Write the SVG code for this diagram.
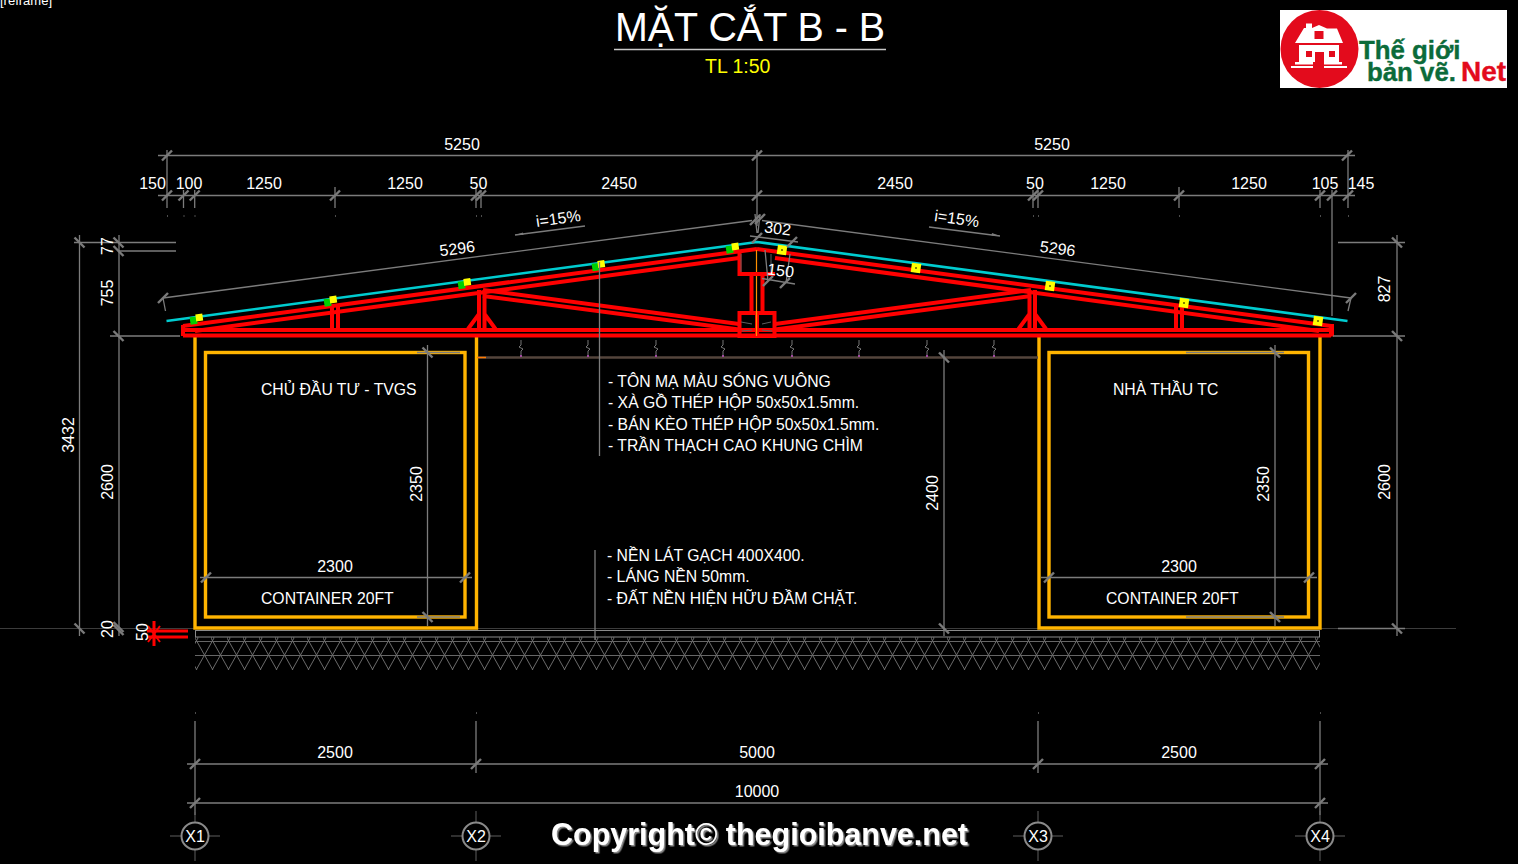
<svg xmlns="http://www.w3.org/2000/svg" width="1518" height="864" viewBox="0 0 1518 864">
<style>
text{font-family:"Liberation Sans",Arial,sans-serif;fill:#fff;font-size:16px}
.m{text-anchor:middle}
.n{font-size:15.750px}
.d{stroke:#7c7c7c;stroke-width:1.3;fill:none}
.f{stroke:#5f5f5f;stroke-width:1;fill:none}
.k{stroke:#7a7a7a;stroke-width:2.400;fill:none}
.r{stroke:#f00;stroke-width:4;fill:none}
.o{stroke:#ffb400;stroke-width:3.400;fill:none}
.c{stroke:#00ccd0;stroke-width:2.600;fill:none}
.g{fill:#fff}
</style>
<defs>
<g id="a"><path class="k" d="M-5 5L5-5"/></g>
<g id="b"><path class="k" d="M-5-5L5 5"/></g>
<g id="h"><path stroke="#777" stroke-width="1" fill="none" d="M0 0V5L-2 7L2 9L0 11V16"/><path stroke="#a04aa0" stroke-width="2" d="M-1 16H1"/></g>
<pattern id="hatch" patternUnits="userSpaceOnUse" x="195" y="638" width="16" height="34">
<path d="M-16 0L3 34M0 0L19 34M3 0L-16 34M19 0L0 34" stroke="#6a6a6a" stroke-width="1" fill="none"/>
</pattern>
<g id="truss">
<path class="r" d="M183 326L757 249M195 331L739 258"/>
<path class="r" d="M483 290L739 324M483 296L739 329.500"/>
<path class="r" d="M332 306V330M338 305V330M479 290V330M484.500 290V330M468 329L479 314M495.500 329L484.500 314"/>
<path class="r" d="M183 325V336"/>
<path class="r" d="M183 330H757M183 335.500H757"/>
<path class="r" d="M739.500 313H757V336H739.500Z"/>
<path class="r" d="M751.500 274V313"/>
</g>
<g id="p1"><rect x="-6" y="-3" width="7" height="7.500" fill="#00d000" transform="rotate(-8)"/><rect x="0" y="-5" width="7" height="7" fill="#ff0" transform="rotate(-8)"/></g>
<g id="p2"><rect x="-4.700" y="-4.700" width="9.400" height="9.400" fill="#ff0" transform="rotate(8)"/><rect x="-.7" y="-.7" width="1.400" height="1.400" fill="#000"/></g>
<filter id="sh" x="-5%" y="-20%" width="110%" height="140%"><feDropShadow dx="1.500" dy="1.500" stdDeviation="0" flood-color="#8c8c8c"/></filter>
</defs>
<rect width="1518" height="864" fill="#000"/>

<g id="frame-label"><text x="0" y="4.500" style="font-size:13px">[reframe]</text></g>

<g id="title">
<text x="615" y="41" textLength="270" lengthAdjust="spacingAndGlyphs" style="font-size:40px">MẶT CẮT B - B</text>
<path d="M614 49.500H886" stroke="#c8c8c8" stroke-width="1.300"/>
<text x="705" y="73" style="font-size:19.500px;fill:#ff0">TL 1:50</text>
</g>

<g id="logo">
<rect x="1280" y="10" width="227" height="78" fill="#fff"/>
<circle cx="1319.500" cy="49" r="39" fill="#e30b1c"/>
<path class="g" d="M1295 43L1304 28H1306V23.500H1312V28L1319 25L1327 28.500H1337L1343 43Z"/>
<path class="g" d="M1299 45H1339V62H1299Z"/>
<path class="g" d="M1291 66H1313V68H1291ZM1324 66H1347V68H1324ZM1295 62H1313V64.500H1295ZM1324 62H1342V64.500H1324Z"/>
<path fill="#e30b1c" d="M1306 51H1312V57H1306ZM1329 51H1335V57H1329ZM1315 52H1324V65H1315ZM1314.500 31H1323.500V39H1314.500Z"/>
<text style="font-size:25.800px;font-weight:700;fill:#0b6b3a;stroke:#0b6b3a;stroke-width:.4"><tspan x="1359" y="59">Thế giới</tspan><tspan x="1367" y="81">bản vẽ.</tspan><tspan x="1461" y="81" style="font-size:28px;fill:#e30b1c;stroke:#e30b1c">Net</tspan></text>
</g>

<g id="ground">
<path d="M0 628.500H1456" stroke="#3c3c3c" stroke-width="1"/>
<rect x="195.500" y="630.500" width="1124" height="6.500" fill="none" stroke="#8a8a8a" stroke-width="1"/>
<rect x="195" y="637" width="1125" height="33" fill="url(#hatch)"/>
<path d="M195 641.500H1320M195 655.500H1320" stroke="#666" stroke-width="1"/>
</g>

<g id="containers">
<path class="o" d="M195 337V628H476.500V337"/>
<rect class="o" x="205.500" y="352.500" width="259.500" height="264.500"/>
<path class="o" d="M1039 337V628H1320V337"/>
<rect class="o" x="1049" y="352.500" width="259.500" height="264.500"/>
</g>

<g id="ceiling">
<path d="M478 357.500H1038" stroke="#54453c" stroke-width="2.500"/>
<path d="M477 357.500H486" stroke="#ff7a00" stroke-width="1.500"/>
<use href="#h" x="521" y="340"/><use href="#h" x="588" y="340"/><use href="#h" x="656" y="340"/><use href="#h" x="723" y="340"/><use href="#h" x="792" y="340"/><use href="#h" x="859" y="340"/><use href="#h" x="927" y="340"/><use href="#h" x="994" y="340"/>
</g>

<g id="roof">
<use href="#truss"/>
<use href="#truss" transform="translate(1514,0) scale(-1,1)"/>
<path class="r" d="M1332 324V336.500"/>
<path d="M756.500 250V336" stroke="#ff9000" stroke-width="1.200"/>
<path class="r" d="M739.500 251V274H775"/>
<path class="f" d="M741 254V272M771 254V272M741 322L752 324M752 330L742 331M771 322L762 324M762 330L772 331"/>
<path class="c" d="M166.500 321L757 242L1347.500 321"/>
<use href="#p1" x="196" y="319.500"/><use href="#p1" x="330" y="301.500"/><use href="#p1" x="464" y="284"/><use href="#p1" x="598" y="266"/><use href="#p1" x="732" y="248.500"/>
<use href="#p2" x="782" y="250"/><use href="#p2" x="916" y="268"/><use href="#p2" x="1050" y="286"/><use href="#p2" x="1184" y="303"/><use href="#p2" x="1318" y="321"/>
</g>

<g id="dimensions">
<path class="d" d="M158 155.500H1355M158 195.500H1355"/>
<path class="d" d="M167 150V208M183.500 190V208M194.700 190V208M335 187V208M476 187V208M481 190V208M757 150V226M1033 190V208M1038 187V208M1179 187V208M1320 190V208M1332 190V316M1348 150V208"/>
<path d="M167 216h1M183.500 216h1M194.500 216h1M335 216h1M476 216h1M481 216h1M1033 216h1M1038 216h1M1179 216h1M1320 216h1M1348 216h1M195 713h1M476 713h1M1038 713h1M1320 713h1" stroke="#999" stroke-width="1"/>
<use href="#a" x="167" y="155.500"/><use href="#a" x="757" y="155.500"/><use href="#a" x="1347" y="155.500"/>
<use href="#a" x="167" y="195.500"/><use href="#a" x="183.500" y="195.500"/><use href="#a" x="194.700" y="195.500"/><use href="#a" x="335" y="195.500"/><use href="#a" x="476" y="195.500"/><use href="#a" x="481" y="195.500"/><use href="#a" x="757" y="195.500"/><use href="#a" x="1033" y="195.500"/><use href="#a" x="1038" y="195.500"/><use href="#a" x="1179" y="195.500"/><use href="#a" x="1320" y="195.500"/><use href="#a" x="1332" y="195.500"/><use href="#a" x="1348" y="195.500"/>
<path class="d" d="M163 298L752 220.500M1351 298L762 220.500M163 298L165.500 311M1351 298L1348 311M755 214L757 233M760 214L758 233"/>
<use href="#a" x="163" y="298"/><use href="#a" x="1351" y="298"/><use href="#a" x="755" y="220"/><use href="#a" x="760" y="219"/>
<path class="d" d="M750 236L798 242M762 278.500L795 284M768 281L765 250M786 283L790 254"/>
<use href="#a" x="757" y="238"/><use href="#a" x="792" y="242"/><use href="#a" x="768" y="281"/><use href="#a" x="785" y="283"/>

<path class="d" d="M79.500 235V636M119 235V636M74 242.500H176M119 251H176M110 336H180M1397 235V636M1338 242.500H1405M1333 336H1405M1338 628.500H1405"/>
<use href="#b" x="79.500" y="242.500"/><use href="#b" x="79.500" y="628.500"/><use href="#b" x="118.500" y="242.500"/><use href="#b" x="118.500" y="251"/><use href="#b" x="118.500" y="336"/><use href="#b" x="118.500" y="627"/><use href="#b" x="118.500" y="630"/>
<use href="#b" x="1397" y="242.500"/><use href="#b" x="1397" y="336"/><use href="#b" x="1397" y="628.500"/>

<path class="d" d="M427.500 345V626M417 352.500H460M417 617H460M1275 345V626M1186 352.500H1284M1186 617H1284M944 350V636M200 577.500H472M1041 577.500H1317"/>
<use href="#b" x="427.500" y="352.500"/><use href="#b" x="427.500" y="617"/><use href="#b" x="1275" y="352.500"/><use href="#b" x="1275" y="617"/><use href="#b" x="944" y="357.500"/><use href="#b" x="944" y="628.500"/>
<use href="#a" x="206" y="577.500"/><use href="#a" x="465" y="577.500"/><use href="#a" x="1049" y="577.500"/><use href="#a" x="1309" y="577.500"/>

<path class="d" d="M187 764H1328M187 803H1328M195 721V815M476 721V773M1038 721V773M1320 721V815"/>
<use href="#a" x="195" y="764"/><use href="#a" x="476" y="764"/><use href="#a" x="1038" y="764"/><use href="#a" x="1320" y="764"/><use href="#a" x="195" y="803"/><use href="#a" x="1320" y="803"/>

<path class="d" d="M515 235L585 226M929 227L1000 236"/>
<path fill="#7c7c7c" d="M515 235L523 232.500L523.500 235ZM1000 236L992 233L991.500 235.500Z"/>
<path class="d" d="M599.500 262V456M595 550V640"/>
</g>

<g id="level-mark">
<path stroke="#f00" stroke-width="3" fill="none" d="M154 621V646M147 631H188M147 637H188"/>
<path stroke="#f00" stroke-width="2" fill="none" d="M148 626L160 642M160 626L148 642"/>
</g>

<g id="dim-labels">
<text class="m" x="462" y="150">5250</text><text class="m" x="1052" y="150">5250</text>
<text class="m" x="152.500" y="189">150</text><text class="m" x="189" y="189">100</text><text class="m" x="264" y="189">1250</text><text class="m" x="405" y="189">1250</text><text class="m" x="478.500" y="189">50</text><text class="m" x="619" y="189">2450</text><text class="m" x="895" y="189">2450</text><text class="m" x="1035" y="189">50</text><text class="m" x="1108" y="189">1250</text><text class="m" x="1249" y="189">1250</text><text class="m" x="1325" y="189">105</text><text class="m" x="1361" y="189">145</text>
<text class="m" transform="translate(458,254) rotate(-7.600)">5296</text>
<text class="m" transform="translate(1057,254) rotate(7.600)">5296</text>
<text class="m" transform="translate(777,234) rotate(7)">302</text>
<text class="m" transform="translate(780,276) rotate(7)">150</text>
<text class="m" transform="translate(559,224) rotate(-8)">i=15%</text>
<text class="m" transform="translate(956,224) rotate(8)">i=15%</text>
<text class="m" transform="translate(113,246) rotate(-90)">77</text>
<text class="m" transform="translate(113,293) rotate(-90)">755</text>
<text class="m" transform="translate(113,482) rotate(-90)">2600</text>
<text class="m" transform="translate(113,629) rotate(-90)">20</text>
<text class="m" transform="translate(74,435) rotate(-90)">3432</text>
<text class="m" transform="translate(148,632) rotate(-90)">50</text>
<text class="m" transform="translate(422,484) rotate(-90)">2350</text>
<text class="m" transform="translate(938,493) rotate(-90)">2400</text>
<text class="m" transform="translate(1269,484) rotate(-90)">2350</text>
<text class="m" transform="translate(1390,482) rotate(-90)">2600</text>
<text class="m" transform="translate(1390,289) rotate(-90)">827</text>
<text class="m" x="335" y="571.500">2300</text><text class="m" x="1179" y="571.500">2300</text>
<text class="m" x="335" y="758">2500</text><text class="m" x="757" y="758">5000</text><text class="m" x="1179" y="758">2500</text><text class="m" x="757" y="797">10000</text>
</g>

<g id="notes">
<text class="n" x="261" y="395">CHỦ ĐẦU TƯ - TVGS</text>
<text class="n" x="1113" y="395">NHÀ THẦU TC</text>
<text class="n" x="261" y="604">CONTAINER 20FT</text>
<text class="n" x="1106" y="604">CONTAINER 20FT</text>
<text class="n" x="608" y="386.500">- TÔN MẠ MÀU SÓNG VUÔNG</text>
<text class="n" x="608" y="408">- XÀ GỒ THÉP HỘP 50x50x1.5mm.</text>
<text class="n" x="608" y="430">- BÁN KÈO THÉP HỘP 50x50x1.5mm.</text>
<text class="n" x="608" y="451">- TRẦN THẠCH CAO KHUNG CHÌM</text>
<text class="n" x="607" y="561">- NỀN LÁT GẠCH 400X400.</text>
<text class="n" x="607" y="582">- LÁNG NỀN 50mm.</text>
<text class="n" x="607" y="603.500">- ĐẤT NỀN HIỆN HỮU ĐẦM CHẶT.</text>
</g>

<g id="axis-X1"><path class="f" d="M170 836H220M195 812V861"/><circle cx="195" cy="836" r="13.500" fill="#000" stroke="#8a8a8a" stroke-width="2"/><text class="m" x="195" y="842">X1</text></g>
<g id="axis-X2"><path class="f" d="M451 836H501M476 811V861"/><circle cx="476" cy="836" r="13.500" fill="#000" stroke="#8a8a8a" stroke-width="2"/><text class="m" x="476" y="842">X2</text></g>
<g id="axis-X3"><path class="f" d="M1013 836H1063M1038 811V861"/><circle cx="1038" cy="836" r="13.500" fill="#000" stroke="#8a8a8a" stroke-width="2"/><text class="m" x="1038" y="842">X3</text></g>
<g id="axis-X4"><path class="f" d="M1295 836H1345M1320 811V861"/><circle cx="1320" cy="836" r="13.500" fill="#000" stroke="#8a8a8a" stroke-width="2"/><text class="m" x="1320" y="842">X4</text></g>

<g id="copyright"><text x="551" y="845" textLength="417" lengthAdjust="spacingAndGlyphs" filter="url(#sh)" style="font-size:31px;font-weight:700">Copyright© thegioibanve.net</text></g>
</svg>
